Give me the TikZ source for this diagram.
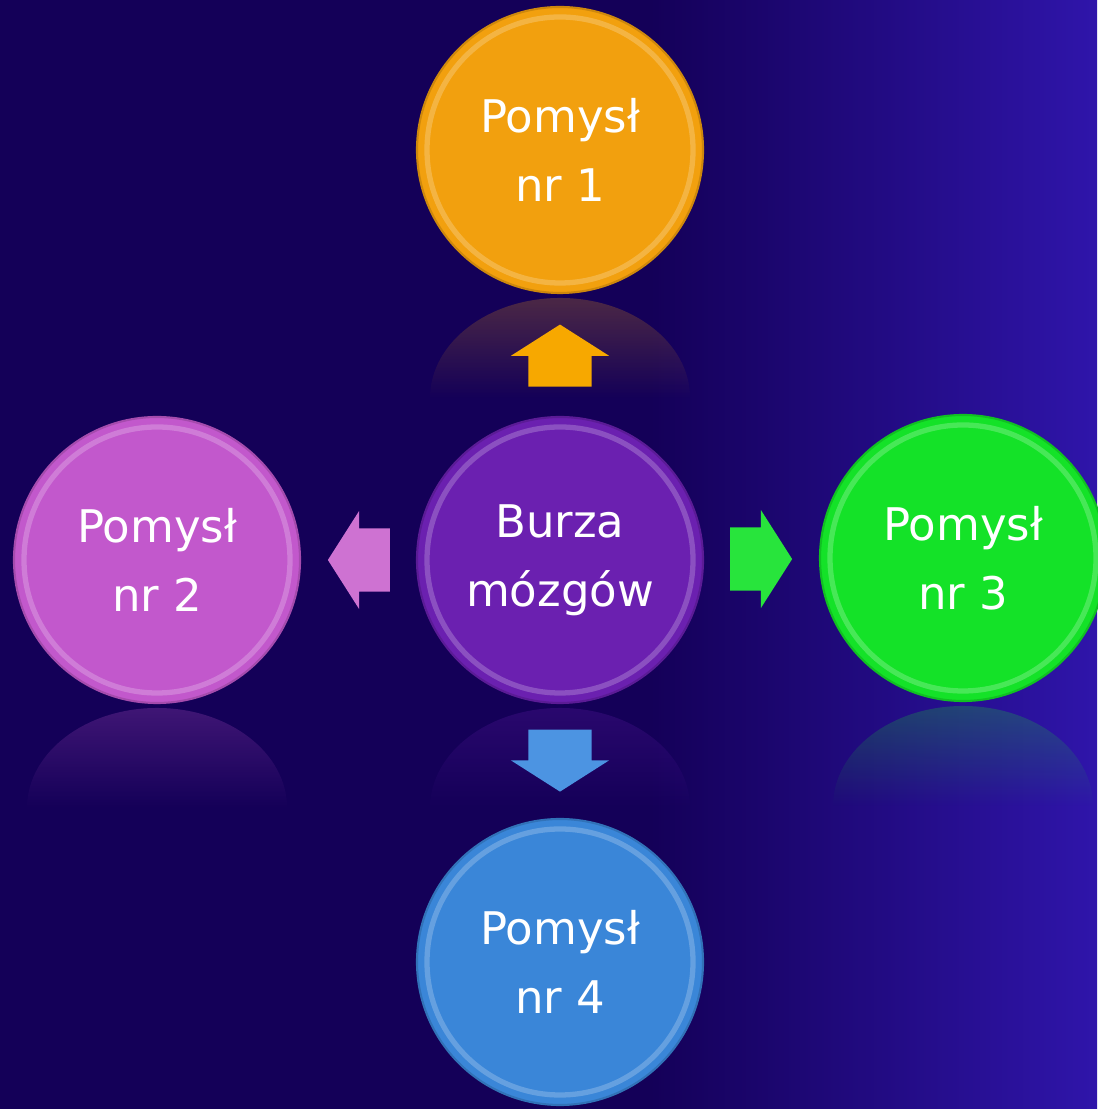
\documentclass[tikz,border=0pt]{standalone}
\usepackage{fontspec}
\setmainfont{DejaVu Sans}
\usetikzlibrary{shapes.arrows,fadings,calc}
\definecolor{tlo}{HTML}{140058}
\definecolor{tloprawe}{HTML}{2F15AA}
\definecolor{pomarancz}{HTML}{F2A00E}
\definecolor{roz}{HTML}{C258CC}
\definecolor{fiolet}{HTML}{6B20B0}
\definecolor{ziel}{HTML}{14E228}
\definecolor{nieb}{HTML}{3A86D8}
\definecolor{spomarancz}{HTML}{F7A800}
\definecolor{sroz}{HTML}{CE72D2}
\definecolor{sziel}{HTML}{28E43C}
\definecolor{snieb}{HTML}{4C94E2}
\tikzset{
  kolo/.style={shape=circle, minimum size=2.86cm, inner sep=0pt, align=center,
    text=white, font=\fontsize{12.8}{19.6}\selectfont,
    fill=#1, draw=#1!85!black, line width=0.6pt,
    path picture={\draw[white, opacity=0.22, line width=1.5pt]
      (path picture bounding box.center) circle (1.33cm);}},
  strzalka/.style={single arrow, fill=#1, draw=none, inner xsep=0pt, inner ysep=0.31cm,
    minimum height=0.62cm,
    single arrow head extend=0.175cm, single arrow tip angle=115,
    single arrow head indent=0pt},
}
\begin{document}
\begin{tikzpicture}
    \fill[tlo] (0,0) rectangle (10.97,11.09);
    \shade[left color=tlo, right color=tloprawe] (6.5,0) rectangle (10.97,11.09);
    \useasboundingbox (0,0) rectangle (10.97,11.09);
    \foreach \x/\y/\k in {5.60/9.59/pomarancz, 1.57/5.49/roz, 9.63/5.51/ziel, 5.60/5.49/fiolet}
        \fill[\k, fill opacity=0.25, path fading=south] (\x-1.30,\y-2.48)
            arc[start angle=180, end angle=0, x radius=1.30, y radius=1.0] -- cycle;
    \node[kolo=fiolet] (S) at (5.60,5.49) {Burza\\mózgów};
    \node[kolo=pomarancz] (P1) at (5.60,9.59) {Pomysł\\nr 1};
    \node[kolo=roz] (P2) at (1.57,5.49) {Pomysł\\nr 2};
    \node[kolo=ziel] (P3) at (9.63,5.51) {Pomysł\\nr 3};
    \node[kolo=nieb] (P4) at (5.60,1.47) {Pomysł\\nr 4};
    \node[strzalka=spomarancz, rotate=90] (A1) at ($(S)!0.474!(P1)$) {};
    \node[strzalka=sroz, rotate=180] (A2) at ($(S)!0.474!(P2)$) {};
    \node[strzalka=sziel] (A3) at ($(S)!0.474!(P3)$) {};
    \node[strzalka=snieb, rotate=270] (A4) at ($(S)!0.474!(P4)$) {};
\end{tikzpicture}
\end{document}
